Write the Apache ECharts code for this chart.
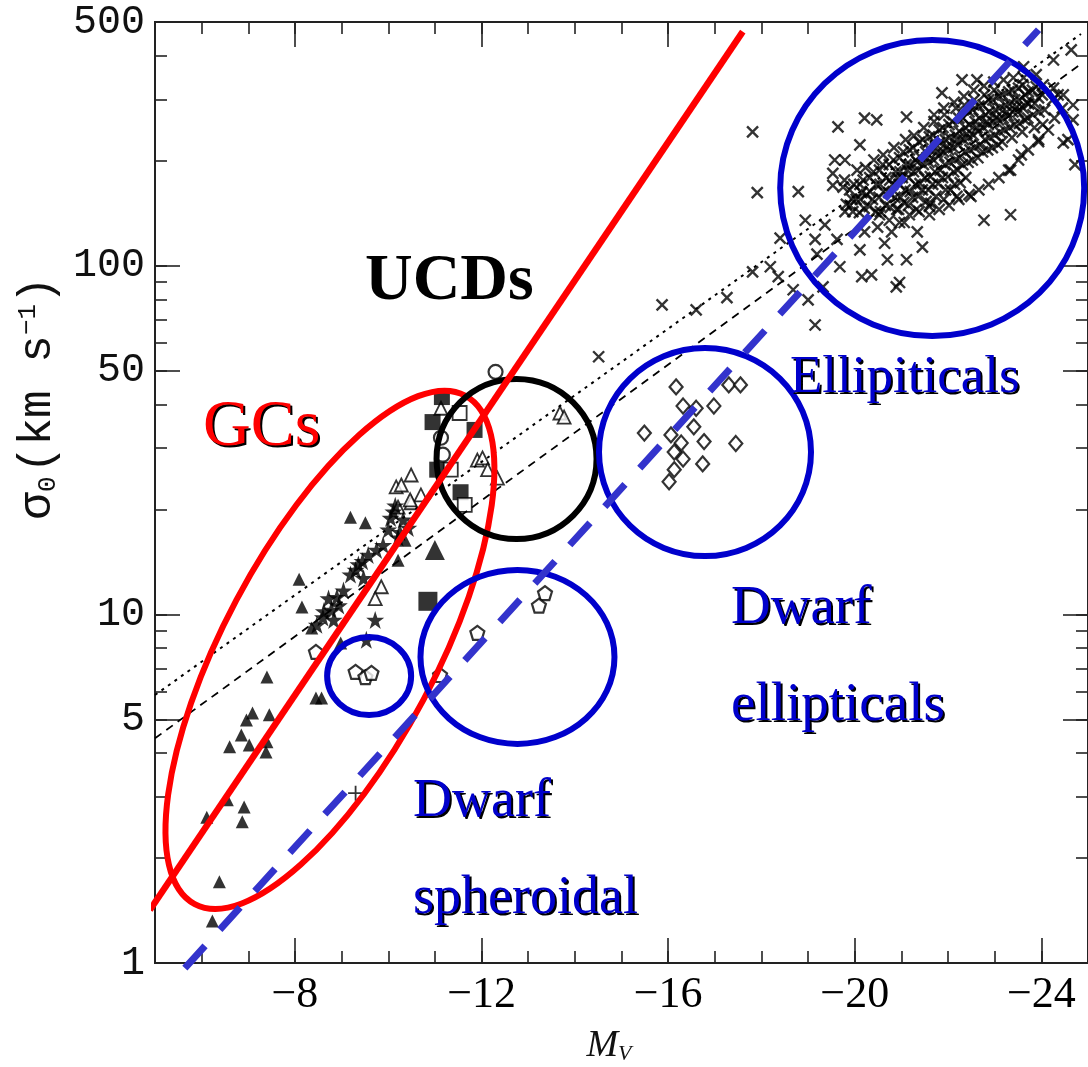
<!DOCTYPE html>
<html>
<head>
<meta charset="utf-8">
<script src="https://cdn.jsdelivr.net/npm/echarts@6/dist/echarts.min.js"></script>
<style>html,body{margin:0;padding:0;background:#fff}#c{width:1088px;height:1067px}</style>
</head>
<body>
<div id="c"></div>
<script>
// ---------- axis ticks ----------
const xMajorTicks = [-8, -12, -16, -20, -24];
const xAllTicks = [-5,-6,-7,-8,-9,-10,-11,-12,-13,-14,-15,-16,-17,-18,-19,-20,-21,-22,-23,-24,-25];
const yMajorTicks = [1, 5, 10, 50, 100, 500];
const yAllTicks = [1,2,3,4,5,6,7,8,9,10,20,30,40,50,60,70,80,90,100,200,300,400,500];

// ---------- lines [M_V, sigma0] ----------
const redLine = [[-4.89, 1.42], [-17.6, 469]];
const blueDashedLine = [[-5.64, 0.967], [-23.94, 475]];
const dottedFit = [[-5, 5.87], [-24.85, 462]];
const dashedFit = [[-5, 4.41], [-24.85, 379]];

// ---------- giant ellipticals (x symbols) ----------
const ellipticalsOuter = [
 [-17.81,242],[-17.91,162],[-18.79,163],[-19.64,250],[-20.21,265],[-20.47,262],[-21.11,267],[-21.87,313],
 [-22.30,341],[-22.62,341],[-23.62,372],[-23.89,353],[-23.89,326],[-23.94,227],[-24.47,225],[-23.57,208],
 [-23.34,188],[-22.77,135],[-23.34,140],[-17.81,96],[-18.19,99.3],[-18.36,93],[-18.68,85.3],[-18.40,120],
 [-18.94,135],[-19.36,131],[-19.15,119],[-19.19,108],[-19.62,119],[-19.68,99.3],[-19.32,87],[-20.11,111],
 [-20.15,93],[-20.36,94.1],[-20.70,104],[-21.11,104],[-20.89,87],[-20.64,116],[-21.06,133],[-21.34,125],
 [-21.45,113],[-20.79,125],[-20.49,129],[-20.21,125],[-19.79,143],[-19.94,155],[-20.15,162],[-21.60,148],
 [-21.91,155],[-22.19,158],[-22.49,158],[-19.57,201],[-19.79,201],[-20.11,222],[-19.53,184],[-19.53,170],
 [-19.15,67.6],[-20.96,89.5],[-24.57,230],[-15.87,77.2],[-16.60,74.7],[-17.26,81],[-14.51,54.8],
 [-24.26,389],[-24.64,416],[-19.0,79.8],[-24.36,309],[-24.68,262],[-24.72,195]
];
const ellipticalsCore = [
 [-19.75,168],[-19.82,150],[-19.78,176],
 [-19.98,171],[-20.03,155],[-19.96,143],[-20.05,188],
 [-20.18,176],[-20.25,160],[-20.2,146],[-20.23,191],
 [-20.4,186],[-20.46,171],[-20.38,155],[-20.45,143],[-20.41,201],
 [-20.6,195],[-20.67,179],[-20.62,163],[-20.66,149],[-20.61,208],
 [-20.83,201],[-20.88,186],[-20.81,171],[-20.86,157],[-20.9,145],[-20.84,218],
 [-21.04,212],[-21.1,195],[-21.02,179],[-21.08,165],[-21.05,152],[-21.09,230],
 [-21.25,218],[-21.31,201],[-21.26,186],[-21.3,171],[-21.24,157],[-21.32,145],[-21.27,236],
 [-21.46,230],[-21.52,212],[-21.47,195],[-21.5,179],[-21.45,165],[-21.53,153],[-21.48,249],
 [-21.68,237],[-21.73,218],[-21.69,201],[-21.72,186],[-21.67,171],[-21.74,158],[-21.7,259],
 [-21.89,249],[-21.94,230],[-21.9,212],[-21.93,195],[-21.88,179],[-21.95,165],[-21.92,271],
 [-22.1,259],[-22.16,237],[-22.11,218],[-22.15,201],[-22.12,186],[-22.14,171],[-22.17,283],
 [-22.32,265],[-22.37,249],[-22.33,230],[-22.36,212],[-22.31,195],[-22.38,179],[-22.35,289],
 [-22.53,280],[-22.58,259],[-22.54,237],[-22.57,218],[-22.52,201],[-22.56,299],
 [-22.75,289],[-22.8,271],[-22.76,249],[-22.79,230],[-22.74,212],[-22.78,309],
 [-22.96,299],[-23.01,280],[-22.97,259],[-23.0,237],[-22.95,218],[-22.99,319],
 [-23.17,309],[-23.22,289],[-23.18,265],[-23.21,245],[-23.16,227],
 [-23.38,319],[-23.43,299],[-23.39,276],[-23.42,254],[-23.37,233],
 [-23.6,330],[-23.65,309],[-23.61,283],[-23.64,262],[-23.59,242],
 [-23.81,319],[-23.86,292],[-23.82,271],[-23.85,249],
 [-24.02,309],[-24.07,280],[-24.03,254],
 [-24.24,299],[-24.28,265],
 [-24.45,283],
 [-19.89,165],[-19.9,149],
 [-20.11,171],[-20.12,155],[-20.1,142],
 [-20.32,179],[-20.33,163],[-20.31,148],
 [-20.53,188],[-20.54,171],[-20.52,157],[-20.55,143],
 [-20.74,195],[-20.75,176],[-20.73,162],[-20.76,147],
 [-20.96,204],[-20.97,186],[-20.95,171],[-20.98,157],[-20.94,145],
 [-21.17,215],[-21.18,195],[-21.16,179],[-21.19,163],[-21.15,149],
 [-21.38,226],[-21.39,206],[-21.37,188],[-21.4,172],[-21.36,158],
 [-21.6,234],[-21.61,215],[-21.59,198],[-21.62,180],[-21.58,165],[-21.63,151],
 [-21.81,245],[-21.82,226],[-21.8,206],[-21.83,188],[-21.79,172],
 [-22.02,254],[-22.03,233],[-22.01,215],[-22.04,198],[-22.0,180],[-22.05,165],
 [-22.23,265],[-22.24,243],[-22.22,222],[-22.25,204],[-22.21,188],[-22.26,173],
 [-22.45,276],[-22.46,254],[-22.44,233],[-22.47,215],[-22.43,198],
 [-22.66,287],[-22.67,265],[-22.65,243],[-22.68,222],[-22.64,204],
 [-22.87,299],[-22.88,276],[-22.86,254],[-22.89,233],[-22.85,215],
 [-23.09,307],[-23.1,283],[-23.08,262],[-23.11,242],[-23.07,222],
 [-23.3,315],[-23.31,291],[-23.29,269],[-23.32,249],
 [-23.51,323],[-23.52,299],[-23.5,276],[-23.53,256],
 [-23.72,315],[-23.73,291],[-23.71,265],
 [-23.94,303],[-23.95,276],
 [-20.53,140],[-20.74,135],[-20.96,133],[-21.17,140],[-21.38,143],[-21.6,140],[-21.81,145],[-22.02,149],
 [-22.23,155],[-22.45,160],[-22.66,165],[-22.87,171],[-23.09,179],[-23.3,188],[-23.51,201],[-23.72,215],
 [-23.94,230],[-24.15,245],
 [-21.7,271],[-21.91,283],[-22.13,294],[-22.34,306],[-22.55,319],[-22.77,328],[-22.98,336],[-23.19,341],
 [-23.4,346],[-23.62,346],[-24.04,330],[-24.26,323],[-24.47,309],[-24.68,289],
 [-20.92,179],[-21.13,188],[-21.34,198],[-21.55,204],[-21.77,212],[-21.98,220],[-22.19,230],[-22.4,239],
 [-22.62,249],[-22.83,259],[-23.04,267],[-23.26,276],[-23.47,285],[-23.68,294]
];

// ---------- dwarf ellipticals (open diamonds) ----------
const dwarfEllipticals = [
 [-16.17,44.9],[-17.30,45.5],[-17.55,45.5],[-16.32,39.6],[-16.60,39.0],[-16.98,39.6],[-15.49,33.1],
 [-16.55,34.5],[-16.06,32.7],[-16.28,31.0],[-16.77,31.3],[-17.45,30.9],[-16.13,29.2],[-16.32,27.9],
 [-16.74,27.0],[-16.13,26.0],[-16.02,24.0]
];

// ---------- dwarf spheroidals (open pentagons) ----------
const dwarfSpheroidals = [
 [-13.36,11.5],[-13.23,10.6],[-11.91,8.85],[-11.11,6.70],[-9.30,6.84],[-9.51,6.61],[-9.64,6.79],[-8.45,7.80]
];

// ---------- globular clusters & UCDs ----------
const gcFilledTriangles = [
 [-9.19,19.0],[-9.51,18.3],[-8.09,12.6],[-8.15,10.5],[-8.36,9.14],[-7.40,6.61],[-8.45,5.76],[-8.57,5.76],
 [-7.09,5.21],[-7.45,5.15],[-6.96,4.98],[-6.85,4.51],[-7.02,4.22],[-7.40,4.31],[-6.60,4.17],[-7.38,4.03],
 [-10.21,14.3],[-10.36,16.3],[-6.55,2.94],[-6.91,2.80],[-6.87,2.54],[-6.11,2.62],[-6.38,1.71],[-6.23,1.32],
 [-8.98,8.28]
];
const bigTriangles = [[-11.0,15.3]];
const gcOpenTriangles = [
 [-10.17,23.2],[-10.49,20.9],[-10.70,22.0],[-9.85,12.0],[-9.72,11.1],[-11.13,39.0],[-10.49,25.1],[-10.28,23.5],
 [-10.21,20.3],[-10.47,21.3],[-11.91,27.7],[-12.02,28.1],[-12.13,26.0],[-13.68,37.8],[-13.77,36.8],[-12.34,24.6]
];
const ucdFilledSquares = [[-11.15,42.0],[-10.95,35.6],[-11.85,33.8],[-11.05,26.0],[-11.55,22.4]];
const bigSquares = [[-10.85,10.9]];
const openSquares = [[-11.53,37.8],[-11.34,26.0],[-11.64,20.6]];
const openCircles = [[-12.30,49.6],[-11.13,32.1],[-11.17,28.7]];
const stars = [
 [-10.11,19.7],[-10.32,18.7],[-10.0,17.5],[-10.21,16.6],[-10.43,17.7],[-9.89,15.8],[-9.57,14.8],[-9.36,13.9],
 [-9.19,13.0],[-9.47,12.7],[-9.04,11.7],[-8.72,11.1],[-8.94,10.6],[-8.62,10.2],[-8.83,9.64],[-8.47,9.33],
 [-9.72,9.64],[-9.53,8.45],[-10.05,18.9],[-10.25,17.2],[-9.75,15.3],[-9.45,14.2],[-9.3,13.4],[-8.9,11.2],
 [-8.78,10.3],[-8.6,9.8],[-10.15,20.5]
];
const pluses = [[-9.30,3.07]];

// ---------- outlined regions: centres [M_V, sigma0] ----------
const regionCenters = [[-8.75,7.91],[-12.75,27.9],[-9.59,6.65],[-12.77,7.55],[-16.79,29.2],[-21.66,167]];
const regionStyles = [
 {rx:288, ry:106, rot:62, color:'#ff0000'},
 {rx:80, ry:80, rot:0, color:'#000000'},
 {rx:42, ry:39, rot:0, color:'#0000cc'},
 {rx:97, ry:87, rot:0, color:'#0000cc'},
 {rx:106, ry:104, rot:0, color:'#0000cc'},
 {rx:152, ry:148, rot:0, color:'#0000cc'}
];

// ---------- chart ----------
const SYM_X = 'path://M0,0L10,10M10,0L0,10';
const SYM_STAR = 'path://M5,0L6.2,3.6L10,3.6L6.9,5.9L8.1,9.5L5,7.3L1.9,9.5L3.1,5.9L0,3.6L3.8,3.6Z';
const SYM_PENT = 'path://M5,0L10,3.8L8.1,10L1.9,10L0,3.8Z';
const SYM_PLUS = 'path://M5,0L5,10M0,5L10,5';
const AX = '#222';
const MONO = 'Liberation Mono';

function xAxisOf(pos, ticks, len, labels) {
  return {
    type: 'value', min: -25, max: -5, inverse: true, position: pos,
    axisLine: {show: true, onZero: false, lineStyle: {color: AX, width: 2}},
    axisTick: {show: true, inside: true, length: len, customValues: ticks, lineStyle: {color: AX, width: 1.6}},
    axisLabel: labels ? {show: true, customValues: xMajorTicks, formatter: v => '\u2212' + Math.abs(v),
      fontFamily: 'Liberation Serif', fontSize: 44, color: '#000', margin: 10} : {show: false},
    splitLine: {show: false}
  };
}
function yAxisOf(pos, ticks, len, labels) {
  return {
    type: 'log', logBase: 10, min: 1, max: 500, position: pos,
    axisLine: {show: true, onZero: false, lineStyle: {color: AX, width: 2}},
    axisTick: {show: true, inside: true, length: len, customValues: ticks, lineStyle: {color: AX, width: 1.6}},
    axisLabel: labels ? {show: true, customValues: yMajorTicks, formatter: v => String(Math.round(v)),
      fontFamily: MONO, fontSize: 40, color: '#111', margin: 10} : {show: false},
    splitLine: {show: false}
  };
}
function sc(name, data, symbol, size, style, z) {
  return {type: 'scatter', name: name, data: data, symbol: symbol, symbolSize: size,
    itemStyle: style, z: z || 3, silent: true, animation: false};
}
function ann(text, x, baseline, size, weight, color, shadow) {
  const font = weight + ' ' + size + 'px "Liberation Serif"';
  const y = baseline - 0.34 * size;
  const out = [];
  if (shadow) out.push({type: 'text', x: x + 2, y: y + 2, z: 100,
    style: {text: text, font: font, fill: '#000', align: 'left', verticalAlign: 'middle'}});
  out.push({type: 'text', x: x, y: y, z: 101,
    style: {text: text, font: font, fill: color, align: 'left', verticalAlign: 'middle'}});
  return out;
}

const chart = echarts.init(document.getElementById('c'), null, {renderer: 'canvas', width: 1088, height: 1067});
const option = {
  animation: false,
  backgroundColor: '#fff',
  grid: {left: 155, top: 22, right: -7, bottom: 104, containLabel: false},
  xAxis: [
    xAxisOf('bottom', xAllTicks, 12, true),
    xAxisOf('bottom', xMajorTicks, 25, false),
    xAxisOf('top', xAllTicks, 12, false),
    xAxisOf('top', xMajorTicks, 25, false)
  ],
  yAxis: [
    yAxisOf('left', yAllTicks, 12, true),
    yAxisOf('left', yMajorTicks, 25, false),
    yAxisOf('right', yAllTicks, 12, false),
    yAxisOf('right', yMajorTicks, 25, false)
  ],
  series: [
    sc('E', ellipticalsOuter.concat(ellipticalsCore), SYM_X, 11, {color: 'none', borderColor: '#000', borderWidth: 2.4}),
    sc('dE', dwarfEllipticals, 'diamond', [13, 15], {color: '#fff', borderColor: '#000', borderWidth: 2.2}),
    sc('dSph', dwarfSpheroidals, SYM_PENT, 14, {color: '#fff', borderColor: '#000', borderWidth: 2.2}),
    sc('GC tri', gcFilledTriangles, 'triangle', 13, {color: '#000'}),
    sc('big tri', bigTriangles, 'triangle', 20, {color: '#000'}),
    sc('open tri', gcOpenTriangles, 'triangle', 13, {color: '#fff', borderColor: '#000', borderWidth: 1.8}),
    sc('stars', stars, SYM_STAR, 18, {color: '#000'}),
    sc('UCD sq', ucdFilledSquares, 'rect', 16, {color: '#000'}),
    sc('big sq', bigSquares, 'rect', 19, {color: '#000'}),
    sc('open sq', openSquares, 'rect', 14, {color: '#fff', borderColor: '#000', borderWidth: 1.8}),
    sc('open circ', openCircles, 'circle', 14, {color: '#fff', borderColor: '#000', borderWidth: 2.2}),
    sc('plus', pluses, SYM_PLUS, 15, {color: 'none', borderColor: '#000', borderWidth: 1.8}),
    {type: 'line', data: dottedFit, showSymbol: false, silent: true, z: 4,
      lineStyle: {color: '#000', width: 2, type: [3, 5]}},
    {type: 'line', data: dashedFit, showSymbol: false, silent: true, z: 4,
      lineStyle: {color: '#000', width: 1.8, type: [8, 6]}},
    {type: 'custom', data: regionCenters, silent: true, z: 6, clip: false,
      renderItem: function (params, api) {
        const p = api.coord([api.value(0), api.value(1)]);
        const s = regionStyles[params.dataIndex];
        return {type: 'ellipse', x: p[0], y: p[1], rotation: s.rot * Math.PI / 180,
          shape: {cx: 0, cy: 0, rx: s.rx, ry: s.ry},
          style: {fill: 'none', stroke: s.color, lineWidth: 6}};
      }},
    {type: 'line', data: redLine, showSymbol: false, silent: true, clip: false, z: 7,
      lineStyle: {color: '#ff0000', width: 6.5}},
    {type: 'line', data: blueDashedLine, showSymbol: false, silent: true, clip: false, z: 7,
      lineStyle: {color: '#3333cc', width: 7, type: [30, 22]}}
  ],
  graphic: [].concat(
    ann('UCDs', 365, 304, 66, 'bold', '#000', false),
    ann('GCs', 203, 450, 66, 'normal', '#ff0000', true),
    ann('Ellipiticals', 790, 396, 53, 'normal', '#0000cc', true),
    ann('Dwarf', 731, 627, 55, 'normal', '#0000cc', true),
    ann('ellipticals', 731, 724, 55, 'normal', '#0000cc', true),
    ann('Dwarf', 413, 820, 54, 'normal', '#0000cc', true),
    ann('spheroidal', 413, 917, 54, 'normal', '#0000cc', true),
    [{type: 'text', x: 38, y: 398, rotation: Math.PI / 2, z: 100,
      style: {text: '{a|σ}{b|0} {a|(km s}{c|\u22121}{a|)}', align: 'center', verticalAlign: 'middle',
        rich: {a: {fontFamily: MONO, fontSize: 46, fill: '#111'},
               b: {fontFamily: MONO, fontSize: 26, fill: '#111', verticalAlign: 'bottom'},
               c: {fontFamily: MONO, fontSize: 26, fill: '#111', verticalAlign: 'top'}}}},
     {type: 'text', x: 609, y: 1046, z: 100,
      style: {text: '{m|M}{v|V}', align: 'center', verticalAlign: 'middle',
        rich: {m: {fontFamily: 'Liberation Serif', fontStyle: 'italic', fontSize: 38, fill: '#111'},
               v: {fontFamily: 'Liberation Serif', fontStyle: 'italic', fontSize: 22, fill: '#111', verticalAlign: 'bottom'}}}}]
  )
};
chart.setOption(option);
</script>
</body>
</html>
